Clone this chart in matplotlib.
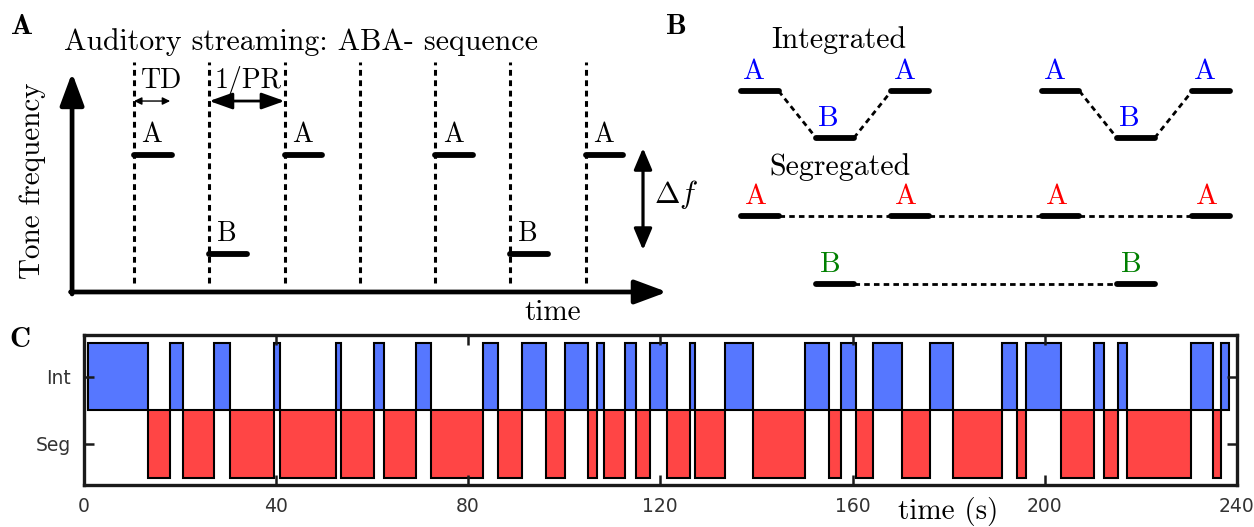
import matplotlib.pyplot as plt
import numpy as np

plt.rcParams['mathtext.fontset'] = 'cm'
plt.rcParams['axes.unicode_minus'] = False

SERIF = 'cmr10'
BOLD = 'cmb10'

# ABA- sequence: one tone per slot, None is the silent slot
seq_tones = ['A', 'B', 'A', None, 'A', 'B', 'A']
tone_levels = {'A': 1.0, 'B': 0.0}
tone_len = 0.5

# integrated vs segregated percepts (slot index of each tone)
int_slots = [0, 1, 2, 4, 5, 6]
int_tones = ['A', 'B', 'A', 'A', 'B', 'A']
seg_a_slots = [0, 2, 4, 6]
seg_b_slots = [1, 5]

# perceptual switching times (s), percept starts as Int
switch_times = [1.0, 13.5, 18.1, 20.8, 27.1, 30.4, 39.6, 40.9, 52.6, 53.5,
                60.4, 62.5, 69.2, 72.2, 83.1, 86.3, 91.3, 96.2, 100.2, 104.9,
                106.9, 108.2, 112.7, 115.0, 117.9, 121.4, 126.1, 127.3, 133.4,
                139.3, 150.1, 155.2, 157.6, 160.7, 164.3, 170.3, 176.2, 181.0,
                191.2, 194.3, 196.2, 203.3, 210.3, 212.4, 215.3, 217.1, 230.4,
                235.0, 236.7, 238.3]
percept_labels = ['Seg', 'Int']
time_ticks = [0, 40, 80, 120, 160, 200, 240]

INT_COLOR = '#5677ff'
SEG_COLOR = '#ff4545'
LABEL_COLORS = {'int': '#0000ff', 'segA': '#ff0000', 'segB': '#008000'}

W, H = 1254, 527
fig = plt.figure(figsize=(W / 100, H / 100), dpi=100)


def px_axes(x0, y0, x1, y1):
    """axes placed by pixel box (top-left origin)"""
    return fig.add_axes([x0 / W, 1 - y1 / H, (x1 - x0) / W, (y1 - y0) / H])


def arrow(ax, start, end, style, lw, ms):
    ax.annotate('', xy=end, xytext=start,
                arrowprops=dict(arrowstyle=style, lw=lw, color='k',
                                mutation_scale=ms, shrinkA=0, shrinkB=0),
                annotation_clip=False)


# ---------------- panel A ----------------
axA = px_axes(50, 55, 700, 330)
axA.set_xlim(-1.116, 7.517)
axA.set_ylim(-0.768, 2.010)
axA.axis('off')

x_orig, y_orig = -0.823, -0.384
arrow(axA, (x_orig, y_orig - 0.02), (x_orig, 1.83),
      '-|>,head_length=1.4,head_width=0.52', 3.4, 14)
arrow(axA, (x_orig - 0.02, y_orig), (7.08, y_orig),
      '-|>,head_length=1.4,head_width=0.52', 3.4, 14)

for k, tone in enumerate(seq_tones):
    axA.plot([k, k], [-0.29, 1.94], color='k', lw=2.2, ls=(0, (1.9, 1.5)))
    if tone is None:
        continue
    lvl = tone_levels[tone]
    axA.plot([k, k + tone_len], [lvl, lvl], color='k', lw=4.2,
             solid_capstyle='round')
    axA.text(k + 0.1, lvl + 0.07, tone, fontsize=20, family=SERIF,
             ha='left', va='bottom')

arrow(axA, (0, 1.545), (tone_len - 0.02, 1.545),
      '<|-|>,head_length=0.45,head_width=0.22', 1.0, 10)
arrow(axA, (1, 1.545), (2, 1.545),
      '<|-|>,head_length=1.4,head_width=0.5', 2.0, 10)
axA.text(0.37, 1.75, 'TD', fontsize=20, family=SERIF, ha='center', va='center')
axA.text(1.51, 1.75, '1/PR', fontsize=20, family=SERIF, ha='center',
         va='center')

arrow(axA, (6.76, tone_levels['B'] + 0.04), (6.76, tone_levels['A'] + 0.07),
      '<|-|>,head_length=1.3,head_width=0.55', 2.3, 10)
axA.text(6.9, 0.6, r'$\Delta f$', fontsize=22, ha='left', va='center')
axA.text(-1.34, 0.737, 'Tone frequency', fontsize=21, family=SERIF,
         rotation=90, ha='center', va='center')
axA.text(5.56, -0.596, 'time', fontsize=21, family=SERIF, ha='center',
         va='center')

fig.text(301 / W, 1 - 42 / H, 'Auditory streaming: ABA- sequence',
         fontsize=21.5, family=SERIF, ha='center', va='center')
fig.text(11 / W, 1 - 14 / H, 'A', fontsize=21, family=BOLD, ha='left',
         va='top')

# ---------------- panel B ----------------
axB = px_axes(700, 0, 1254, 330)
axB.set_xlim(-0.545, 6.822)
axB.set_ylim(3.3, 0)
axB.axis('off')

int_lvl = {'A': 0.91, 'B': 1.38}
seg_a_lvl, seg_b_lvl = 2.16, 2.84
tone_kw = dict(color='k', lw=4.2, solid_capstyle='round')
dash_kw = dict(color='k', lw=2.0, ls=(0, (2.0, 1.5)))
lab_kw = dict(fontsize=21, family=SERIF, ha='left', va='bottom')

for i, (k, tone) in enumerate(zip(int_slots, int_tones)):
    lvl = int_lvl[tone]
    axB.plot([k, k + tone_len], [lvl, lvl], **tone_kw)
    axB.text(k + 0.03, lvl - 0.06, tone, color=LABEL_COLORS['int'], **lab_kw)
    if i + 1 < len(int_slots) and int_slots[i + 1] == k + 1:
        nxt = int_lvl[int_tones[i + 1]]
        axB.plot([k + tone_len, k + 1], [lvl, nxt], **dash_kw)

for slots, lvl, name, col in [
        (seg_a_slots, seg_a_lvl, 'A', LABEL_COLORS['segA']),
        (seg_b_slots, seg_b_lvl, 'B', LABEL_COLORS['segB'])]:
    for i, k in enumerate(slots):
        axB.plot([k, k + tone_len], [lvl, lvl], **tone_kw)
        axB.text(k + 0.05, lvl - 0.06, name, color=col, **lab_kw)
        if i + 1 < len(slots):
            axB.plot([k + tone_len, slots[i + 1]], [lvl, lvl], **dash_kw)

axB.text(1.3, 0.40, 'Integrated', fontsize=21.5, family=SERIF, ha='center',
         va='center')
axB.text(1.32, 1.67, 'Segregated', fontsize=21.5, family=SERIF, ha='center',
         va='center')
fig.text(666 / W, 1 - 14 / H, 'B', fontsize=21, family=BOLD, ha='left',
         va='top')

# ---------------- panel C ----------------
axC = px_axes(83.5, 335, 1237, 485)
starts = np.array(switch_times[:-1])
widths = np.diff(switch_times)
is_int = np.arange(len(starts)) % 2 == 0
axC.bar(starts[is_int], 1.0, width=widths[is_int], bottom=0.5, align='edge',
        color=INT_COLOR, edgecolor='k', linewidth=1.5)
axC.bar(starts[~is_int], 1.0, width=widths[~is_int], bottom=-0.5,
        align='edge', color=SEG_COLOR, edgecolor='k', linewidth=1.5)

axC.set_xlim(time_ticks[0], time_ticks[-1])
axC.set_ylim(-0.61, 1.62)
axC.set_xticks(time_ticks)
axC.set_yticks([0, 1])
axC.set_yticklabels(percept_labels)
axC.tick_params(direction='in', length=7, width=1.8, top=True, right=True,
                pad=9, labelsize=13.5, labelcolor='#333333', color='#1a1a1a')
for sp in axC.spines.values():
    sp.set_linewidth(2.4)
    sp.set_color('#1a1a1a')

fig.text(948 / W, 1 - 511 / H, 'time (s)', fontsize=21, family=SERIF,
         ha='center', va='center')
fig.text(9 / W, 1 - 327 / H, 'C', fontsize=21, family=BOLD, ha='left',
         va='top')

fig.savefig('out.png', dpi=100)
